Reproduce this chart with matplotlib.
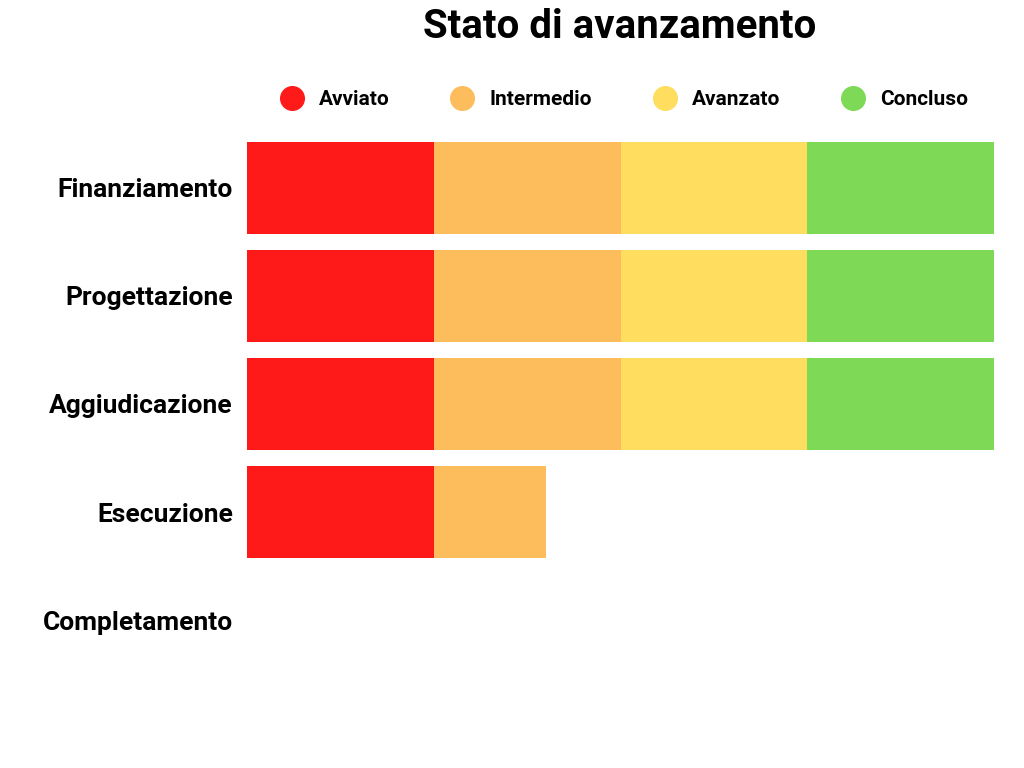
import matplotlib
matplotlib.use("Agg")
import matplotlib.pyplot as plt
from matplotlib.lines import Line2D

categories = ["Finanziamento", "Progettazione", "Aggiudicazione", "Esecuzione", "Completamento"]
series_names = ["Avviato", "Intermedio", "Avanzato", "Concluso"]
values = {
    "Avviato":    [25, 25, 25, 25, 0],
    "Intermedio": [25, 25, 25, 15, 0],
    "Avanzato":   [25, 25, 25, 0, 0],
    "Concluso":   [25, 25, 25, 0, 0],
}
colors = ["#ff1a1a", "#fdbd5c", "#ffdd5e", "#7ed957"]

plt.rcParams['font.family'] = ['Roboto', 'DejaVu Sans']
fig = plt.figure(figsize=(10.24, 7.68), dpi=100)
ax = fig.add_axes([0.241, 0.122, 0.73, 0.704])
y = list(range(len(categories)))
left = [0] * len(categories)
for name, c in zip(series_names, colors):
    v = values[name]
    ax.barh(y, v, left=left, height=0.85, color=c, linewidth=0)
    left = [a + b for a, b in zip(left, v)]
ax.set_xlim(0, 100)
ax.set_ylim(len(categories) - 0.5, -0.5)
ax.set_yticks(y)
ax.set_yticklabels(categories, fontsize=19, fontweight='bold')
ax.tick_params(axis='y', length=0, pad=10)
ax.set_xticks([])
for s in ax.spines.values():
    s.set_visible(False)
fig.text(0.605, 0.965, "Stato di avanzamento", ha='center', va='center', fontsize=29, fontweight='bold')
handles = [Line2D([], [], marker='o', linestyle='', markersize=17, color=c) for c in colors]
fig.legend(handles, series_names, loc='center', bbox_to_anchor=(0.605, 0.87), ncol=4, frameon=False,
           prop={'size': 15, 'weight': 'bold'}, columnspacing=2.5, handletextpad=0.3)
fig.savefig("out.png", dpi=100, facecolor='white')
